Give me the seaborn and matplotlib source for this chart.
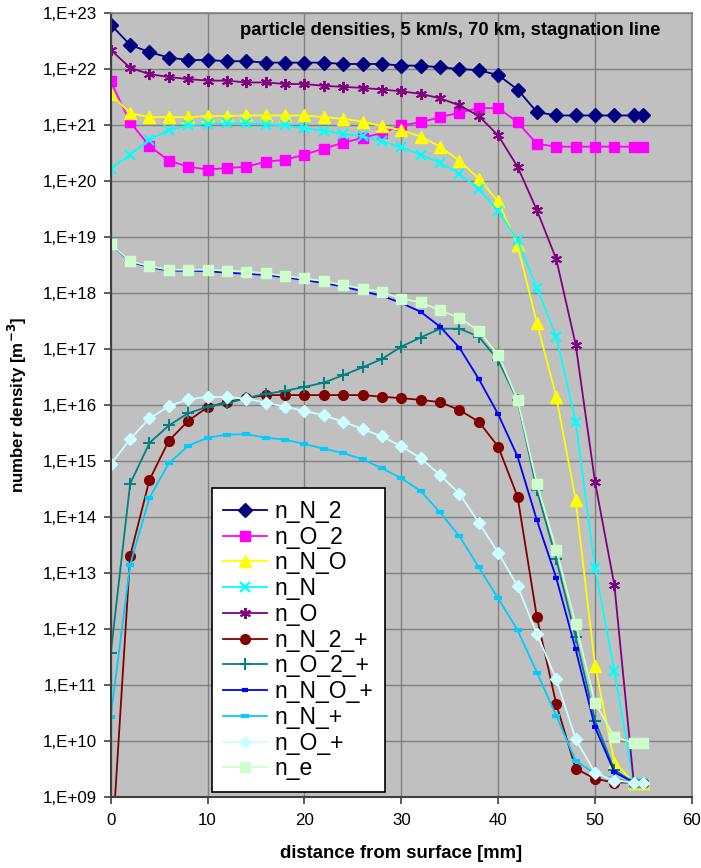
import numpy as np
import pandas as pd
import seaborn as sns
import matplotlib.pyplot as plt
from matplotlib.ticker import FuncFormatter, LogLocator, NullLocator

# distance from surface [mm]
distance = [0, 2, 4, 6, 8, 10, 12, 14, 16, 18, 20, 22, 24, 26, 28, 30, 32, 34, 36, 38,
            40, 42, 44, 46, 48, 50, 52, 54, 55]

# number densities [m^-3]
n_N_2 = [6.2e22, 2.7e22, 2.0e22, 1.6e22, 1.45e22, 1.45e22, 1.38e22, 1.38e22, 1.3e22, 1.3e22,
         1.3e22, 1.3e22, 1.23e22, 1.23e22, 1.23e22, 1.15e22, 1.15e22, 1.07e22, 1.0e22, 9.5e21,
         7.8e21, 4.3e21, 1.7e21, 1.48e21, 1.48e21, 1.48e21, 1.48e21, 1.48e21, 1.48e21]
n_O_2 = [6.0e21, 1.12e21, 4.2e20, 2.3e20, 1.8e20, 1.6e20, 1.7e20, 1.8e20, 2.2e20, 2.4e20,
         2.95e20, 3.8e20, 4.8e20, 5.9e20, 7.2e20, 9.8e20, 1.12e21, 1.38e21, 1.66e21, 2.0e21,
         2.0e21, 1.12e21, 4.6e20, 4.1e20, 4.1e20, 4.1e20, 4.1e20, 4.1e20, 4.1e20]
n_N_O = [3.6e21, 1.62e21, 1.38e21, 1.38e21, 1.38e21, 1.45e21, 1.45e21, 1.48e21, 1.48e21, 1.48e21,
         1.48e21, 1.38e21, 1.29e21, 1.15e21, 9.5e20, 8.1e20, 6.2e20, 4.1e20, 2.3e20, 1.1e20,
         4.3e19, 7.2e18, 2.9e17, 1.4e16, 2.0e14, 2.2e11, 4.1e9, 1.8e9, 1.8e9]
n_N = [1.66e20, 2.95e20, 5.5e20, 8.1e20, 9.8e20, 1.05e21, 1.07e21, 1.07e21, 1.02e21, 9.8e20,
       8.7e20, 7.9e20, 6.9e20, 6.3e20, 5.1e20, 4.0e20, 2.95e20, 2.1e20, 1.35e20, 7.1e19,
       2.9e19, 8.7e18, 1.23e18, 1.66e17, 5.0e15, 1.23e13, 1.74e11, 1.8e9, 1.8e9]
n_O = [2.2e22, 1.05e22, 8.1e21, 7.2e21, 6.6e21, 6.2e21, 6.2e21, 5.75e21, 5.75e21, 5.4e21,
       5.4e21, 5.0e21, 4.8e21, 4.6e21, 4.3e21, 4.0e21, 3.6e21, 3.0e21, 2.24e21, 1.45e21,
       6.5e20, 1.8e20, 3.0e19, 4.0e18, 1.2e17, 4.2e14, 6.0e12, 1.8e9, 1.8e9]
n_N_2_p = [5.7e7, 2.0e13, 4.6e14, 2.3e15, 5.2e15, 9.1e15, 1.12e16, 1.32e16, 1.5e16, 1.5e16,
           1.5e16, 1.5e16, 1.5e16, 1.5e16, 1.4e16, 1.32e16, 1.23e16, 1.12e16, 8.1e15, 5.0e15,
           1.8e15, 2.3e14, 1.6e12, 4.5e10, 3.2e9, 2.1e9, 1.8e9, 1.8e9, 1.8e9]
n_O_2_p = [3.7e11, 3.9e14, 2.1e15, 4.3e15, 7.1e15, 9.3e15, 1.07e16, 1.32e16, 1.58e16, 1.78e16,
           2.1e16, 2.5e16, 3.4e16, 4.7e16, 6.6e16, 1.1e17, 1.6e17, 2.3e17, 2.3e17, 1.66e17,
           6.3e16, 1.2e16, 3.0e14, 1.74e13, 7.1e11, 2.3e10, 3.0e9, 1.8e9, 1.8e9]
n_N_O_p = [7.6e18, 3.6e18, 2.9e18, 2.5e18, 2.5e18, 2.45e18, 2.3e18, 2.2e18, 2.1e18, 1.9e18,
           1.7e18, 1.5e18, 1.3e18, 1.07e18, 8.9e17, 6.6e17, 4.6e17, 2.5e17, 1.05e17, 2.9e16,
           6.8e15, 1.2e15, 8.7e13, 8.1e12, 4.3e11, 1.74e10, 2.75e9, 1.8e9, 1.8e9]
n_N_p = [2.7e10, 1.4e13, 2.2e14, 9.1e14, 1.86e15, 2.6e15, 2.95e15, 3.0e15, 2.6e15, 2.4e15,
         2.0e15, 1.66e15, 1.38e15, 1.07e15, 7.4e14, 4.9e14, 2.9e14, 1.2e14, 4.5e13, 1.26e13,
         3.5e12, 9.5e11, 1.66e11, 2.8e10, 4.4e9, 2.6e9, 2.1e9, 1.8e9, 1.8e9]
n_O_p = [8.7e14, 2.45e15, 5.75e15, 9.5e15, 1.26e16, 1.4e16, 1.38e16, 1.29e16, 1.1e16, 9.3e15,
         7.8e15, 6.5e15, 5.0e15, 3.7e15, 2.75e15, 1.82e15, 1.12e15, 5.6e14, 2.6e14, 7.9e13,
         2.3e13, 5.8e12, 8.1e11, 1.26e11, 1.07e10, 2.7e9, 1.95e9, 1.8e9, 1.8e9]
n_e = [7.6e18, 3.7e18, 3.0e18, 2.6e18, 2.6e18, 2.6e18, 2.5e18, 2.4e18, 2.24e18, 2.0e18,
       1.82e18, 1.62e18, 1.38e18, 1.2e18, 1.05e18, 7.9e17, 6.8e17, 4.9e17, 3.6e17, 2.1e17,
       7.8e16, 1.23e16, 3.9e14, 2.6e13, 1.23e12, 4.8e10, 1.17e10, 9.3e9, 9.3e9]

labels = ['n_N_2', 'n_O_2', 'n_N_O', 'n_N', 'n_O', 'n_N_2_+', 'n_O_2_+',
          'n_N_O_+', 'n_N_+', 'n_O_+', 'n_e']
series = [n_N_2, n_O_2, n_N_O, n_N, n_O, n_N_2_p, n_O_2_p, n_N_O_p, n_N_p, n_O_p, n_e]

# Excel-like style for each species: colour, marker, marker size, marker edge width
styles = {
    'n_N_2':   ('#000080', 'D', 7, 1.0),
    'n_O_2':   ('#FF00FF', 's', 7, 1.0),
    'n_N_O':   ('#FFFF00', '^', 8, 1.0),
    'n_N':     ('#00FFFF', 'x', 7, 1.6),
    'n_O':     ('#800080', (6, 2, 0), 8, 1.4),
    'n_N_2_+': ('#800000', 'o', 7, 1.0),
    'n_O_2_+': ('#008080', '+', 8, 1.4),
    'n_N_O_+': ('#0000FF', '_', 4.5, 3.0),
    'n_N_+':   ('#00CCFF', '_', 6, 3.0),
    'n_O_+':   ('#CCFFFF', 'D', 6.5, 1.0),
    'n_e':     ('#CCFFCC', 's', 6.5, 1.0),
}

df = pd.DataFrame({'distance': distance})
for name, vals in zip(labels, series):
    df[name] = vals
long_df = df.melt(id_vars='distance', var_name='species', value_name='density')

plt.rcParams['font.family'] = ['Liberation Sans', 'DejaVu Sans']

fig = plt.figure(figsize=(7.01, 8.68), dpi=100)
ax = fig.add_axes([0.158, 0.082, 0.829, 0.903])
ax.set_facecolor('#C0C0C0')

for name in labels:
    color, marker, ms, mew = styles[name]
    sub = long_df[long_df['species'] == name]
    sns.lineplot(data=sub, x='distance', y='density', ax=ax, color=color,
                 marker=marker, markersize=ms, markeredgewidth=mew,
                 markeredgecolor=color, markerfacecolor=color,
                 linewidth=1.3, label=name, estimator=None, sort=False)

ax.set_yscale('log')
ax.set_xlim(0, 60)
ax.set_ylim(1e9, 1e23)
ax.set_xticks(range(0, 61, 10))
ax.yaxis.set_major_locator(LogLocator(base=10, numticks=20))
ax.yaxis.set_minor_locator(NullLocator())
ax.yaxis.set_major_formatter(FuncFormatter(lambda v, p: '1,E+%02d' % int(round(np.log10(v)))))

ax.grid(True, color='#808080', linewidth=1.0)
ax.set_axisbelow(True)
ax.tick_params(axis='both', direction='out', length=5, width=1.2, color='#404040',
               labelsize=12.2)
ax.tick_params(axis='x', pad=7)
ax.tick_params(axis='y', pad=5)
for side in ['left', 'bottom']:
    ax.spines[side].set_color('#404040')
    ax.spines[side].set_linewidth(1.5)
for side in ['top', 'right']:
    ax.spines[side].set_color('#808080')
    ax.spines[side].set_linewidth(1.2)

ax.set_xlabel('distance from surface [mm]', fontsize=13.3, fontweight='bold', labelpad=12)
ax.set_ylabel('number density [m$^{\\mathbf{-3}}$]', fontsize=12.2, fontweight='bold', labelpad=10)

ax.text(0.945, 0.978, 'particle densities, 5 km/s, 70 km, stagnation line',
        transform=ax.transAxes, ha='right', va='center', fontsize=13.3, fontweight='bold')

leg = ax.legend(loc='lower left', bbox_to_anchor=(0.174, 0.0064), borderaxespad=0,
                fontsize=16.5, frameon=True, fancybox=False, framealpha=1,
                edgecolor='#000000', handlelength=1.9, labelspacing=0.12,
                borderpad=0.5, handletextpad=0.35)
leg.get_frame().set_linewidth(1.2)

fig.savefig('out.png', dpi=100)
